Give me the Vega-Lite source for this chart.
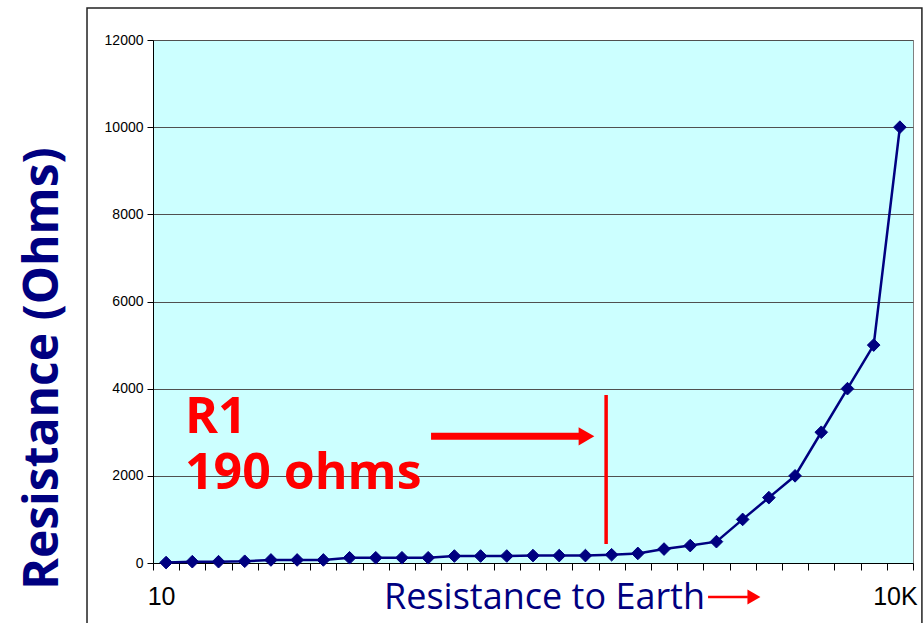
{
  "$schema": "https://vega.github.io/schema/vega-lite/v6.json",
  "width": 760,
  "height": 523,
  "autosize": {"type": "none"},
  "padding": {"left": 153, "top": 40, "right": 11, "bottom": 60},
  "background": "white",
  "config": {"view": {"fill": "#CCFFFF", "stroke": "#808080", "strokeWidth": 1}, "axis": {"labelOverlap": false}},
  "datasets": {
    "curve": [
      {"step": 1, "ohms": 10},
      {"step": 2, "ohms": 30},
      {"step": 3, "ohms": 30},
      {"step": 4, "ohms": 40},
      {"step": 5, "ohms": 70},
      {"step": 6, "ohms": 70},
      {"step": 7, "ohms": 70},
      {"step": 8, "ohms": 120},
      {"step": 9, "ohms": 120},
      {"step": 10, "ohms": 120},
      {"step": 11, "ohms": 120},
      {"step": 12, "ohms": 160},
      {"step": 13, "ohms": 160},
      {"step": 14, "ohms": 160},
      {"step": 15, "ohms": 170},
      {"step": 16, "ohms": 170},
      {"step": 17, "ohms": 170},
      {"step": 18, "ohms": 190},
      {"step": 19, "ohms": 220},
      {"step": 20, "ohms": 320},
      {"step": 21, "ohms": 400},
      {"step": 22, "ohms": 490},
      {"step": 23, "ohms": 1000},
      {"step": 24, "ohms": 1500},
      {"step": 25, "ohms": 2000},
      {"step": 26, "ohms": 3000},
      {"step": 27, "ohms": 4000},
      {"step": 28, "ohms": 5000},
      {"step": 29, "ohms": 10000}
    ],
    "one": [{"n": 1}]
  },
  "layer": [
    {
      "data": {"name": "curve"},
      "mark": {
        "type": "line",
        "color": "#000080",
        "strokeWidth": 2.5,
        "point": {"shape": "diamond", "size": 160, "filled": true, "color": "#000080", "stroke": "#000080", "strokeWidth": 1, "opacity": 1}
      },
      "encoding": {
        "x": {
          "field": "step",
          "type": "quantitative",
          "scale": {"domain": [0.5, 29.5], "nice": false, "zero": false},
          "axis": {
            "values": [0.5, 1, 1.5, 2.5, 3.5, 4.5, 5.5, 6.5, 7.5, 8.5, 9.5, 10.5, 11.5, 12.5, 13.5, 14.5, 15.5, 16.5, 17.5, 18.5, 19.5, 20.5, 21.5, 22.5, 23.5, 24.5, 25.5, 26.5, 27.5, 28.5, 29, 29.5],
            "tickCount": 100,
            "grid": false,
            "domainColor": "black",
            "domainWidth": 1,
            "tickColor": "black",
            "tickSize": 7,
            "tickOpacity": {"condition": {"test": "datum.value % 1 == 0", "value": 0}, "value": 1},
            "labelExpr": "datum.value == 1 ? '10' : datum.value == 29 ? '10K' : ''",
            "labelFont": "Liberation Sans",
            "labelFontSize": 25,
            "labelColor": "black",
            "labelBaseline": "alphabetic",
            "labelPadding": 34,
            "labelOffset": -5,
            "labelFlush": false,
            "labelOverlap": false,
            "title": "Resistance to Earth",
            "titleFont": "Open Sans",
            "titleFontSize": 36,
            "titleFontWeight": "normal",
            "titleColor": "#000080",
            "titleX": 391,
            "titleY": 45,
            "titleAlign": "center",
            "titleBaseline": "alphabetic"
          }
        },
        "y": {
          "field": "ohms",
          "type": "quantitative",
          "scale": {"domain": [0, 12000], "nice": false, "zero": false},
          "axis": {
            "values": [0, 2000, 4000, 6000, 8000, 10000, 12000],
            "tickCount": 100,
            "format": "d",
            "grid": true,
            "gridColor": "#505050",
            "gridWidth": 1,
            "domainColor": "black",
            "tickColor": "black",
            "tickSize": 6,
            "labelFont": "Liberation Sans",
            "labelFontSize": 14,
            "labelColor": "black",
            "labelPadding": 4,
            "title": "Resistance (Ohms)",
            "titleFont": "Open Sans",
            "titleFontWeight": "bold",
            "titleFontSize": 48,
            "titleColor": "#000080",
            "titleAngle": -90,
            "titleX": -96,
            "titleY": 328,
            "titleAlign": "center",
            "titleBaseline": "alphabetic"
          }
        }
      }
    },
    {
      "data": {"name": "one"},
      "mark": {"type": "rect", "fillOpacity": 0, "stroke": "#222222", "strokeWidth": 1.5},
      "encoding": {
        "x": {"datum": -2.018, "type": "quantitative"},
        "x2": {"datum": 29.84},
        "y": {"datum": 12734, "type": "quantitative"},
        "y2": {"datum": -2000}
      }
    },
    {
      "data": {"name": "one"},
      "mark": {"type": "rule", "color": "#FF0000", "strokeWidth": 7, "strokeCap": "butt"},
      "encoding": {
        "x": {"datum": 11.11, "type": "quantitative"},
        "x2": {"datum": 16.79},
        "y": {"datum": 2906, "type": "quantitative"}
      }
    },
    {
      "data": {"name": "one"},
      "mark": {"type": "point", "shape": "triangle-right", "size": 330, "filled": true, "color": "#FF0000", "opacity": 1},
      "encoding": {
        "x": {"datum": 17.04, "type": "quantitative"},
        "y": {"datum": 2906, "type": "quantitative"}
      }
    },
    {
      "data": {"name": "one"},
      "mark": {"type": "rule", "color": "#FF0000", "strokeWidth": 3.5, "strokeCap": "butt"},
      "encoding": {
        "x": {"datum": 17.79, "type": "quantitative"},
        "y": {"datum": 3855, "type": "quantitative"},
        "y2": {"datum": 436}
      }
    },
    {
      "data": {"name": "one"},
      "mark": {"type": "rule", "color": "#FF0000", "strokeWidth": 2.5, "strokeCap": "butt"},
      "encoding": {
        "x": {"datum": 21.68, "type": "quantitative"},
        "x2": {"datum": 23.2},
        "y": {"datum": -780, "type": "quantitative"}
      }
    },
    {
      "data": {"name": "one"},
      "mark": {"type": "point", "shape": "triangle-right", "size": 225, "filled": true, "color": "#FF0000", "opacity": 1},
      "encoding": {
        "x": {"datum": 23.43, "type": "quantitative"},
        "y": {"datum": -780, "type": "quantitative"}
      }
    },
    {
      "data": {"name": "one"},
      "mark": {"type": "text", "text": "R1", "font": "Open Sans", "fontWeight": "bold", "fontSize": 50, "color": "#FF0000", "align": "left", "baseline": "alphabetic"},
      "encoding": {
        "x": {"datum": 1.72, "type": "quantitative"},
        "y": {"datum": 2983, "type": "quantitative"}
      }
    },
    {
      "data": {"name": "one"},
      "mark": {"type": "text", "text": "190 ohms", "font": "Open Sans", "fontWeight": "bold", "fontSize": 50, "color": "#FF0000", "align": "left", "baseline": "alphabetic"},
      "encoding": {
        "x": {"datum": 1.72, "type": "quantitative"},
        "y": {"datum": 1691, "type": "quantitative"}
      }
    }
  ]
}
